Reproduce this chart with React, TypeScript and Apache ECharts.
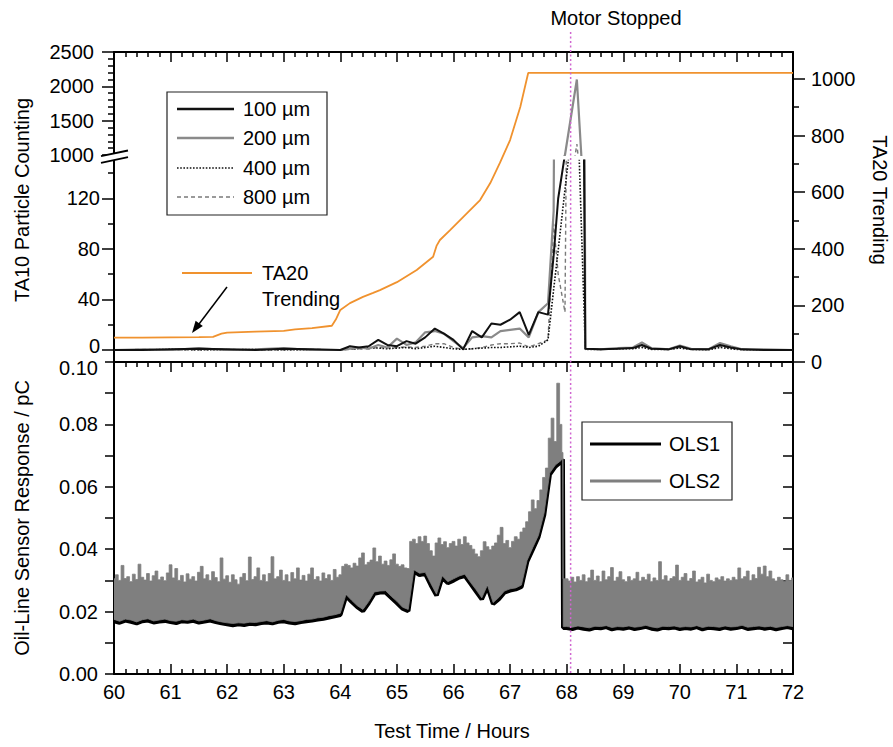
import React, { useEffect, useRef } from "react";
import * as echarts from "echarts";

const FONT = "'Liberation Sans', Arial, Helvetica, sans-serif";

// ---------- Top panel: TA10 particle counts (left axis, broken) ----------
const pcTime = [
  60, 60.5, 61, 61.5, 62, 62.5, 63, 63.5,
  64.0, 64.17, 64.33, 64.5, 64.67, 64.83,
  65.0, 65.17, 65.33, 65.5, 65.67, 65.83,
  66.0, 66.17, 66.33, 66.5, 66.67, 66.83,
  67.0, 67.17, 67.33, 67.5, 67.67, 67.77, 67.85, 67.97,
  68.18, 68.33, 68.6, 68.9,
  69.17, 69.33, 69.5, 69.8,
  70.0, 70.2, 70.5, 70.71, 70.9,
  71.1, 71.5, 72.0,
];
const p100 = [
  0, 0, 0.5, 1, 0.5, 0, 1, 0.5,
  0, 3, 2, 3, 8, 4,
  3, 7, 5, 10, 17, 13,
  8, 0.5, 15, 10, 21, 20,
  24, 30, 12, 30, 28, 75, 120, 155,
  950, 1, 0.5, 1,
  1.5, 4, 1, 0.5,
  3, 0.5, 0.5, 4, 2,
  0.5, 0, 0,
];
const p200 = [
  0, 0.5, 0, 1.5, 0, 0.5, 1.5, 0,
  0, 1, 2, 1, 4, 2,
  9, 4, 6, 14, 15, 13,
  7, 1.5, 10, 11, 10, 15,
  16, 17, 10, 30, 37, 110, 800, 1000,
  2100, 1, 0.5, 1.5,
  2, 6, 1.5, 0.5,
  3.5, 1, 0.5, 5.5, 3,
  0.5, 0.5, 0,
];
const p400 = [
  0, 0, 0.5, 0, 0, 0.5, 0, 0,
  0, 1, 1, 2, 1.5, 1,
  1.5, 2, 1, 2, 3, 2,
  1, 0.5, 1, 1.5, 2, 2,
  2.5, 3, 2, 3, 8, 48, 79, 127,
  210, 0.5, 0.5, 1,
  1, 2, 0.5, 0.5,
  1.5, 0.5, 0, 2, 1,
  0, 0, 0,
];
const p800 = [
  0, 0.5, 0, 0, 0.5, 0, 0, 0.5,
  0, 0.5, 1, 1, 2, 1.5,
  2, 2.5, 2, 3, 5, 5,
  2, 0.5, 1, 2, 4, 5,
  5, 5.5, 2.5, 5, 8, 100, 60, 30,
  1160, 1, 0.5, 1,
  1.5, 3, 1, 0.5,
  2, 0.5, 0.5, 3, 1.5,
  0.5, 0, 0,
];

// ---------- TA20 trending (right axis) ----------
const taTime = [60, 60.5, 61, 61.5, 61.75, 61.9, 62, 62.5, 63, 63.2, 63.5, 63.85, 63.92, 64.0, 64.17, 64.4, 64.58, 64.7, 65.0, 65.35, 65.64, 65.7, 65.76, 65.94, 66.24, 66.47, 66.65, 66.82, 67.0, 67.18, 67.32, 72];
const taVal = [86, 86, 87, 88, 89, 100, 104, 107, 110, 115, 120, 128, 150, 184, 208, 230, 244, 254, 282, 325, 372, 410, 431, 466, 526, 572, 632, 703, 784, 901, 1021, 1021];

// tick label values
const upperTicks = [1000, 1500, 2000, 2500];
const lowerMajor = [0, 40, 80, 120];
const lowerMinor = [20, 60, 100, 140];
const taMajor = [0, 200, 400, 600, 800, 1000];
const taMinor = [100, 300, 500, 700, 900];
const hourTicks = [60, 61, 62, 63, 64, 65, 66, 67, 68, 69, 70, 71, 72];

// ---------- Bottom panel: oil-line sensors ----------
// OLS2 upper envelope, 60.00..67.90 every 0.05 h, then 67.93
const ols2MaxPre = [
  0.0305, 0.0318, 0.0300, 0.0348, 0.0306, 0.0312, 0.0296, 0.0320, 0.0303, 0.0352,
  0.0310, 0.0301, 0.0322, 0.0298, 0.0315, 0.0330, 0.0302, 0.0311, 0.0299, 0.0324,
  0.0350, 0.0308, 0.0338, 0.0300, 0.0316, 0.0295, 0.0321, 0.0304, 0.0312, 0.0298,
  0.0326, 0.0345, 0.0305, 0.0318, 0.0300, 0.0328, 0.0309, 0.0296, 0.0372, 0.0304,
  0.0315, 0.0294, 0.0318, 0.0302, 0.0288, 0.0310, 0.0322, 0.0299, 0.0375, 0.0303,
  0.0312, 0.0340, 0.0300, 0.0318, 0.0296, 0.0322, 0.0376, 0.0305, 0.0312, 0.0333,
  0.0300, 0.0318, 0.0296, 0.0325, 0.0305, 0.0340, 0.0301, 0.0316, 0.0298, 0.0320,
  0.0340, 0.0303, 0.0312, 0.0298, 0.0324, 0.0306, 0.0318, 0.0300, 0.0335, 0.0310,
  0.0318,
  0.0345, 0.0352, 0.0348, 0.0340, 0.0355, 0.0346, 0.0372, 0.0388, 0.0350, 0.0358,
  0.0365, 0.0404, 0.0360, 0.0378, 0.0352, 0.0362, 0.0348, 0.0366, 0.0385, 0.0352,
  0.0345, 0.0350, 0.0340, 0.0338, 0.0425, 0.0432, 0.0418, 0.0440, 0.0425, 0.0442,
  0.0418, 0.0395, 0.0378, 0.0420, 0.0436, 0.0415, 0.0424, 0.0405, 0.0418, 0.0425,
  0.0410, 0.0432, 0.0415, 0.0440, 0.0420, 0.0412, 0.0400, 0.0385, 0.0376, 0.0395,
  0.0424, 0.0408, 0.0398, 0.0410, 0.0420, 0.0445, 0.0470, 0.0418, 0.0428, 0.0405,
  0.0425, 0.0440, 0.0432, 0.0455, 0.0468, 0.0488, 0.0520, 0.0558, 0.0530, 0.0556,
  0.0590, 0.0630, 0.0660, 0.0756, 0.0820, 0.0745, 0.0932, 0.0800,
  0.0710,
];
// OLS2 upper envelope, 67.94, then 68.00..72.00 every 0.05 h
const ols2MaxPost = [
  0.0305,
  0.0305, 0.0298, 0.0310, 0.0295, 0.0312, 0.0300, 0.0318, 0.0296, 0.0308, 0.0333,
  0.0300, 0.0314, 0.0296, 0.0330, 0.0302, 0.0312, 0.0341, 0.0298, 0.0310, 0.0328,
  0.0302, 0.0296, 0.0312, 0.0300, 0.0305, 0.0326, 0.0298, 0.0310, 0.0302, 0.0320,
  0.0296, 0.0308, 0.0300, 0.0360, 0.0302, 0.0315, 0.0298, 0.0306, 0.0312, 0.0349,
  0.0300, 0.0310, 0.0322, 0.0298, 0.0306, 0.0330, 0.0295, 0.0302, 0.0310, 0.0292,
  0.0320, 0.0300, 0.0296, 0.0308, 0.0302, 0.0312, 0.0298, 0.0305, 0.0300, 0.0310,
  0.0302, 0.0340, 0.0305, 0.0312, 0.0330, 0.0300, 0.0318, 0.0306, 0.0342, 0.0320,
  0.0346, 0.0312, 0.0330, 0.0305, 0.0298, 0.0310, 0.0302, 0.0296, 0.0318, 0.0300,
  0.0308,
];
// OLS2 lower envelope, 60.0..67.9 every 0.1 h, then 67.93
const ols2MinPre = [
  0.0175, 0.0169, 0.0176, 0.0173, 0.0167, 0.0174, 0.0177, 0.0170, 0.0173, 0.0176,
  0.0171, 0.0169, 0.0174, 0.0172, 0.0176, 0.0170, 0.0173, 0.0177, 0.0171, 0.0167,
  0.0164, 0.0162, 0.0164, 0.0163, 0.0166, 0.0165, 0.0168, 0.0171, 0.0167, 0.0172,
  0.0175, 0.0170, 0.0168, 0.0171, 0.0175, 0.0176, 0.0180, 0.0182, 0.0187, 0.0190,
  0.0195,
  0.0255, 0.0236, 0.0219, 0.0207, 0.0232, 0.0263, 0.0266, 0.0267, 0.0249, 0.0233,
  0.0214, 0.0207, 0.0334, 0.0323, 0.0326, 0.0290, 0.0256, 0.0315, 0.0296, 0.0305,
  0.0314, 0.0320, 0.0294, 0.0270, 0.0244, 0.0285, 0.0229, 0.0245, 0.0266, 0.0273,
  0.0276, 0.0285, 0.0364, 0.0405, 0.0444, 0.0515, 0.0644, 0.0670, 0.0684,
  0.0692,
];
// OLS2 lower envelope, 67.94, then 68.0..72.0 every 0.1 h
const ols2MinPost = [
  0.0152,
  0.0152, 0.0150, 0.0154, 0.0151, 0.0148, 0.0153, 0.0152, 0.0155, 0.0149, 0.0152,
  0.0151, 0.0154, 0.0150, 0.0152, 0.0156, 0.0151, 0.0148, 0.0153, 0.0152, 0.0154,
  0.0150, 0.0152, 0.0151, 0.0155, 0.0149, 0.0153, 0.0152, 0.0150, 0.0154, 0.0151,
  0.0152, 0.0156, 0.0150, 0.0152, 0.0154, 0.0151, 0.0153, 0.0149, 0.0152, 0.0155,
  0.0152,
];
// OLS1, 60.0..67.9 every 0.1 h, then 67.93
const ols1Pre = [
  0.0170, 0.0165, 0.0172, 0.0168, 0.0163, 0.0170, 0.0172, 0.0166, 0.0169, 0.0171,
  0.0167, 0.0164, 0.0170, 0.0168, 0.0171, 0.0166, 0.0169, 0.0172, 0.0167, 0.0163,
  0.0160, 0.0157, 0.0160, 0.0158, 0.0162, 0.0160, 0.0164, 0.0166, 0.0163, 0.0168,
  0.0170, 0.0166, 0.0163, 0.0167, 0.0170, 0.0172, 0.0175, 0.0178, 0.0182, 0.0186,
  0.0190,
  0.0250, 0.0232, 0.0215, 0.0202, 0.0228, 0.0258, 0.0262, 0.0262, 0.0245, 0.0228,
  0.0210, 0.0202, 0.0330, 0.0318, 0.0322, 0.0285, 0.0252, 0.0310, 0.0292, 0.0300,
  0.0310, 0.0315, 0.0290, 0.0265, 0.0240, 0.0280, 0.0225, 0.0240, 0.0262, 0.0268,
  0.0272, 0.0280, 0.0360, 0.0400, 0.0440, 0.0510, 0.0640, 0.0665, 0.0680,
  0.0688,
];
// OLS1, 67.94, then 68.0..72.0 every 0.1 h
const ols1Post = [
  0.0148,
  0.0148, 0.0145, 0.0150, 0.0146, 0.0143, 0.0149, 0.0147, 0.0151, 0.0144, 0.0148,
  0.0146, 0.0150, 0.0145, 0.0148, 0.0152, 0.0146, 0.0143, 0.0149, 0.0147, 0.0150,
  0.0145, 0.0148, 0.0146, 0.0151, 0.0144, 0.0149, 0.0147, 0.0145, 0.0150, 0.0146,
  0.0148, 0.0152, 0.0145, 0.0147, 0.0150, 0.0146, 0.0149, 0.0144, 0.0148, 0.0151,
  0.0147,
];

const motorStop = 68.07;

function timeGrid(start: number, end: number, step: number) {
  const out: number[] = [];
  const n = Math.round((end - start) / step);
  for (let i = 0; i <= n; i++) out.push(+(start + i * step).toFixed(3));
  return out;
}
const fineTime = [...timeGrid(60, 67.9, 0.05), 67.93, 67.94, ...timeGrid(68, 72, 0.05)];
const coarseTime = [...timeGrid(60, 67.9, 0.1), 67.93, 67.94, ...timeGrid(68, 72, 0.1)];
const ols2Max = [...ols2MaxPre, ...ols2MaxPost];
const ols2Min = [...ols2MinPre, ...ols2MinPost];
const ols1 = [...ols1Pre, ...ols1Post];

const zip = (t: number[], v: number[]) => t.slice(0, Math.min(t.length, v.length)).map((x, i) => [x, v[i]]);

export default function App() {
  const ref = useRef<HTMLDivElement>(null);

  useEffect(() => {
    if (!ref.current) return;
    const chart = echarts.init(ref.current, undefined, { renderer: "svg" });

    const axisLineStyle = { color: "#000", width: 2 };
    const tickStyle = { color: "#000", width: 1.5 };
    const labelBase = { color: "#000", fontSize: 20, fontFamily: FONT };

    const xBase: any = {
      type: "value",
      min: 60,
      max: 72,
      interval: 1,
      splitLine: { show: false },
    };
    const xFramed = (gridIndex: number, position: string, labels: boolean) => ({
      ...xBase,
      gridIndex,
      position,
      axisLine: { show: true, onZero: false, lineStyle: axisLineStyle },
      axisTick: { show: true, inside: true, length: 10, lineStyle: tickStyle },
      minorTick: { show: true, splitNumber: 5, length: 5, lineStyle: tickStyle },
      axisLabel: labels
        ? { ...labelBase, show: true, margin: 8, customValues: hourTicks, formatter: (v: number) => String(v) }
        : { show: false },
    });

    const pcStyles = [
      { name: "800 \u00b5m", data: p800, color: "#7a7a7a", width: 1.4, type: [4, 3] },
      { name: "400 \u00b5m", data: p400, color: "#111", width: 1.6, type: [1.6, 1.6] },
      { name: "200 \u00b5m", data: p200, color: "#8a8a8a", width: 2.2, type: "solid" },
      { name: "100 \u00b5m", data: p100, color: "#111", width: 2, type: "solid" },
    ];

    const pcSeries: any[] = [];
    pcStyles.forEach((s) => {
      [0, 1].forEach((g) => {
        pcSeries.push({
          type: "line",
          name: s.name,
          xAxisIndex: g,
          yAxisIndex: g,
          data: zip(pcTime, s.data),
          symbol: "none",
          showSymbol: false,
          clip: true,
          lineStyle: { color: s.color, width: s.width, type: s.type },
          itemStyle: { color: s.color },
          z: 4,
        });
      });
    });

    const option: any = {
      animation: false,
      textStyle: { fontFamily: FONT },
      grid: [
        { left: 114, top: 52, width: 679, height: 103, outerBoundsMode: "none" },
        { left: 114, top: 160.6, width: 679, height: 189.4, outerBoundsMode: "none" },
        { left: 114, top: 52, width: 679, height: 310, outerBoundsMode: "none" },
        { left: 114, top: 362, width: 679, height: 312, outerBoundsMode: "none" },
      ],
      xAxis: [
        { ...xBase, gridIndex: 0, show: false },
        { ...xBase, gridIndex: 1, show: false },
        xFramed(2, "top", false),
        xFramed(3, "bottom", true),
        xFramed(3, "top", false),
      ],
      yAxis: [
        {
          type: "value",
          gridIndex: 0,
          position: "left",
          min: 1000,
          max: 2500,
          interval: 500,
          axisLine: { show: false, onZero: false },
          axisTick: { show: true, inside: false, length: 12, lineStyle: tickStyle },
          minorTick: { show: true, splitNumber: 5, length: 6, lineStyle: tickStyle },
          axisLabel: { ...labelBase, margin: 20, customValues: upperTicks, formatter: (v: number) => String(v) },
          splitLine: { show: false },
        },
        {
          type: "value",
          gridIndex: 1,
          position: "left",
          min: 0,
          max: 150,
          axisLine: { show: false, onZero: false },
          axisTick: { show: true, inside: false, length: 12, lineStyle: tickStyle, customValues: lowerMajor },
          axisLabel: {
            ...labelBase,
            margin: 14,
            customValues: lowerMajor,
            formatter: (v: number) => (v === 0 ? "{lo|0}" : String(v)),
            rich: { lo: { ...labelBase, lineHeight: 16, padding: [0, 0, 8, 0] } },
          },
          splitLine: { show: false },
        },
        {
          type: "value",
          gridIndex: 1,
          position: "left",
          min: 0,
          max: 150,
          axisLine: { show: false, onZero: false },
          axisTick: { show: true, inside: false, length: 6, lineStyle: tickStyle, customValues: lowerMinor },
          axisLabel: { show: false },
          splitLine: { show: false },
        },
        {
          type: "value",
          gridIndex: 2,
          position: "left",
          min: 0,
          max: 1,
          axisLine: { show: true, onZero: false, lineStyle: axisLineStyle },
          axisTick: { show: false },
          axisLabel: { show: false },
          splitLine: { show: false },
        },
        {
          type: "value",
          gridIndex: 2,
          position: "right",
          min: 0,
          max: 1095,
          axisLine: { show: true, onZero: false, lineStyle: axisLineStyle },
          axisTick: { show: true, inside: false, length: 12, lineStyle: tickStyle, customValues: taMajor },
          axisLabel: { ...labelBase, margin: 18, customValues: taMajor, formatter: (v: number) => String(v) },
          splitLine: { show: false },
        },
        {
          type: "value",
          gridIndex: 2,
          position: "right",
          min: 0,
          max: 1095,
          axisLine: { show: false, onZero: false },
          axisTick: { show: true, inside: false, length: 6, lineStyle: tickStyle, customValues: taMinor },
          axisLabel: { show: false },
          splitLine: { show: false },
        },
        {
          type: "value",
          gridIndex: 3,
          position: "left",
          min: 0,
          max: 0.1,
          interval: 0.02,
          axisLine: { show: true, onZero: false, lineStyle: axisLineStyle },
          axisTick: { show: true, inside: false, length: 9, lineStyle: tickStyle },
          minorTick: { show: true, splitNumber: 2, length: 9, lineStyle: tickStyle },
          axisLabel: {
            ...labelBase,
            margin: 16,
            formatter: (v: number) => (Math.abs(v - 0.1) < 1e-9 ? "{hi|0.10}" : v.toFixed(2)),
            rich: { hi: { ...labelBase, lineHeight: 16, padding: [12, 0, 0, 0] } },
          },
          splitLine: { show: false },
        },
        {
          type: "value",
          gridIndex: 3,
          position: "right",
          min: 0,
          max: 0.1,
          interval: 0.01,
          axisLine: { show: true, onZero: false, lineStyle: axisLineStyle },
          axisTick: { show: true, inside: true, length: 10, lineStyle: tickStyle },
          axisLabel: { show: false },
          splitLine: { show: false },
        },
      ],
      series: [
        {
          type: "line",
          name: "TA20 Trending",
          xAxisIndex: 2,
          yAxisIndex: 4,
          data: zip(taTime, taVal),
          symbol: "none",
          lineStyle: { color: "#f0922e", width: 1.8 },
          itemStyle: { color: "#f0922e" },
          z: 3,
        },
        ...pcSeries,
        {
          type: "line",
          name: "OLS1",
          xAxisIndex: 3,
          yAxisIndex: 6,
          data: zip(coarseTime, ols1),
          symbol: "none",
          lineStyle: { color: "#000", width: 4.5 },
          itemStyle: { color: "#000" },
          z: 2,
        },
        {
          type: "custom",
          name: "OLS2",
          xAxisIndex: 3,
          yAxisIndex: 6,
          data: [[60, 0]],
          encode: { x: 0, y: 1 },
          clip: true,
          z: 3,
          renderItem: (params: any, api: any) => {
            if (params.dataIndex !== 0) return null;
            const pts: number[][] = [];
            const n = Math.min(fineTime.length, ols2Max.length);
            for (let i = 0; i < n; i++) {
              const t = fineTime[i];
              const hl = i > 0 ? (t - fineTime[i - 1]) / 2 : 0;
              const hr = i < n - 1 ? (fineTime[i + 1] - t) / 2 : 0;
              pts.push(api.coord([t - hl, ols2Max[i]]));
              pts.push(api.coord([t + hr, ols2Max[i]]));
            }
            const m = Math.min(coarseTime.length, ols2Min.length);
            for (let i = m - 1; i >= 0; i--) {
              pts.push(api.coord([coarseTime[i], ols2Min[i]]));
            }
            return {
              type: "polygon",
              shape: { points: pts },
              style: { fill: "#7f7f7f", stroke: "#7f7f7f", lineWidth: 0.8 },
            };
          },
        },
      ],
    };

    chart.setOption(option);

    const mx = chart.convertToPixel({ xAxisIndex: 3 } as any, motorStop) as number;

    const text = (x: number, y: number, t: string, extra: any = {}) => ({
      type: "text",
      x,
      y,
      z: 100,
      rotation: extra.rotation || 0,
      style: {
        text: t,
        fontSize: 20,
        fontFamily: FONT,
        fill: "#000",
        align: extra.align || "left",
        verticalAlign: "middle",
        textAlign: extra.align || "left",
        textVerticalAlign: "middle",
      },
    });
    const seg = (x1: number, y1: number, x2: number, y2: number, stroke: string, lineWidth: number, lineDash?: number[]) => ({
      type: "line",
      z: 100,
      shape: { x1, y1, x2, y2 },
      style: { stroke, lineWidth, lineDash },
    });

    const legendRows = [
      { y: 109, label: "100 \u00b5m", color: "#111", width: 2.5, dash: undefined },
      { y: 138, label: "200 \u00b5m", color: "#8a8a8a", width: 2.5, dash: undefined },
      { y: 168, label: "400 \u00b5m", color: "#111", width: 1.6, dash: [1.6, 1.6] },
      { y: 197, label: "800 \u00b5m", color: "#7a7a7a", width: 1.4, dash: [4, 3] },
    ];

    const graphic: any[] = [
      // axis break mark on the left axis
      {
        type: "polygon",
        z: 101,
        shape: { points: [[102, 156], [127, 150.7], [127, 157.3], [102, 162.6]] },
        style: { fill: "#fff" },
      },
      { ...seg(101, 156.2, 128, 150.5, "#000", 1.8), z: 102 },
      { ...seg(101, 162.8, 128, 157.1, "#000", 1.8), z: 102 },
      // motor stopped line
      seg(mx, 32, mx, 674, "#d066d0", 1.5, [2, 2.5]),
      text(616, 18, "Motor Stopped", { align: "center" }),
      // axis titles
      text(22, 200, "TA10 Particle Counting", { align: "center", rotation: Math.PI / 2 }),
      text(22, 518, "Oil-Line Sensor Response / pC", { align: "center", rotation: Math.PI / 2 }),
      text(880, 200, "TA20 Trending", { align: "center", rotation: -Math.PI / 2 }),
      text(452, 731, "Test Time / Hours", { align: "center" }),
      // particle legend
      {
        type: "rect",
        z: 99,
        shape: { x: 167, y: 92, width: 160, height: 123 },
        style: { fill: "#fff", stroke: "#222", lineWidth: 1.2 },
      },
      ...legendRows.flatMap((r) => [
        seg(177, r.y, 234, r.y, r.color, r.width, r.dash),
        text(243, r.y, r.label),
      ]),
      // TA20 annotation
      seg(182, 273, 252, 273, "#f0922e", 2),
      text(262, 273, "TA20"),
      text(262, 299, "Trending"),
      seg(227, 287, 196, 328, "#000", 1.5),
      {
        type: "polygon",
        z: 100,
        shape: { points: [[192, 333], [202.8, 326.1], [195.6, 320.7]] },
        style: { fill: "#000" },
      },
      // OLS legend
      {
        type: "rect",
        z: 99,
        shape: { x: 582, y: 422, width: 150, height: 78 },
        style: { fill: "#fff", stroke: "#222", lineWidth: 1.2 },
      },
      seg(590, 444, 661, 444, "#000", 3),
      text(669, 444, "OLS1"),
      seg(590, 481, 661, 481, "#7f7f7f", 3),
      text(669, 481, "OLS2"),
    ];

    chart.setOption({ graphic });

    return () => {
      chart.dispose();
    };
  }, []);

  return (
    <div
      ref={ref}
      style={{ position: "absolute", left: 0, top: 0, width: 893, height: 747, background: "#fff" }}
    />
  );
}
